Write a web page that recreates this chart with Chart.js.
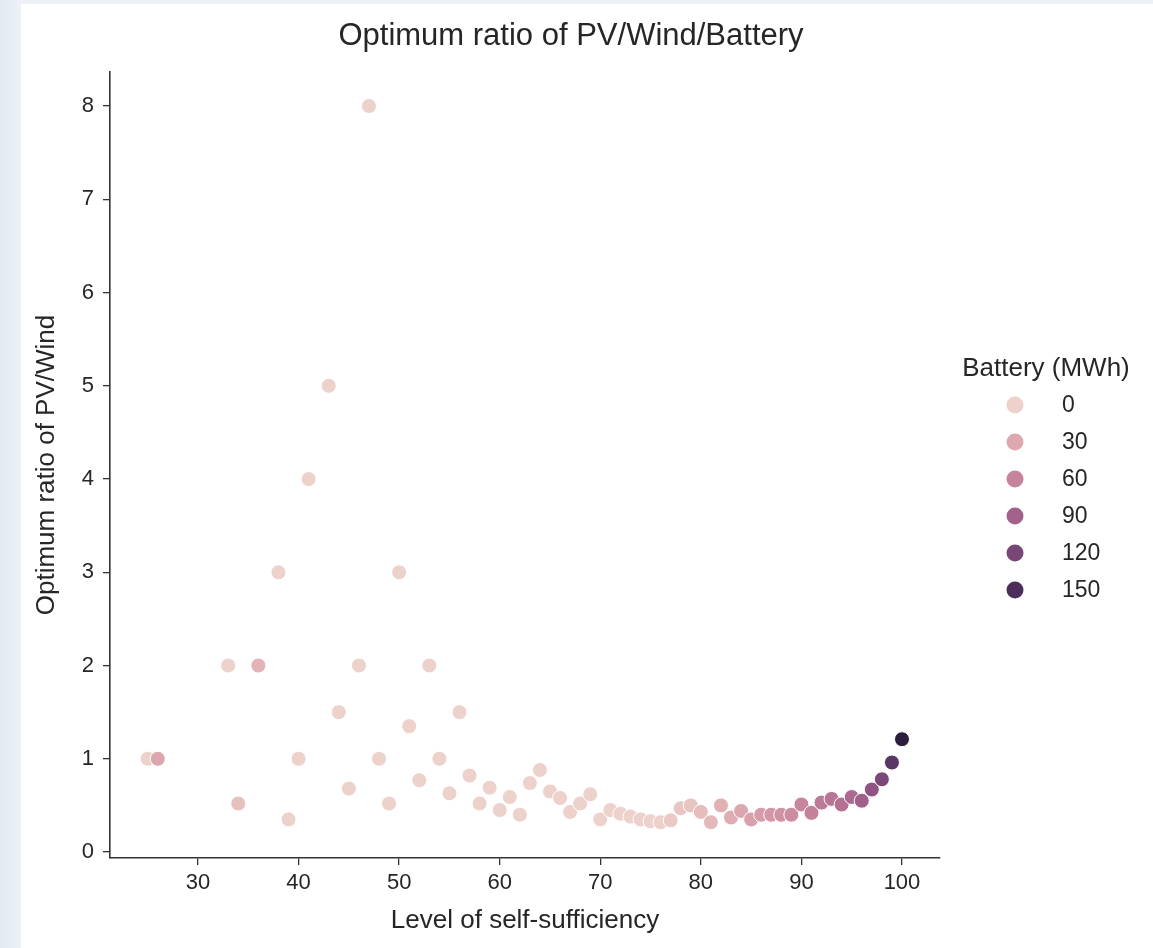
<!DOCTYPE html>
<html>
<head>
<meta charset="utf-8">
<script src="https://cdn.jsdelivr.net/npm/chart.js@4.4.1/dist/chart.umd.min.js"></script>
<style>
  html, body { margin: 0; padding: 0; }
  body { width: 1153px; height: 948px; overflow: hidden; position: relative;
         background: linear-gradient(90deg, #e3e9f2 0px, #edf1f7 21px); }
  #panel { position: absolute; left: 21px; top: 4px; right: 0; bottom: 0; background: #fff; }
  #chart { position: absolute; left: 0; top: 0; }
</style>
</head>
<body>
<div id="panel"></div>
<canvas id="chart" width="1153" height="948"></canvas>
<script>
// level of self-sufficiency (%)
const selfSufficiency = [25, 26, 33, 34, 36, 38, 39, 40, 41, 43, 44, 45, 46, 47, 48, 49, 50,
  51, 52, 53, 54, 55, 56, 57, 58, 59, 60, 61, 62, 63, 64, 65, 66, 67, 68, 69, 70,
  71, 72, 73, 74, 75, 76, 77, 78, 79, 80, 81, 82, 83, 84, 85, 86, 87, 88, 89, 90,
  91, 92, 93, 94, 95, 96, 97, 98, 99, 100];

// optimum PV/Wind ratio
const pvWindRatio = [1.0, 1.0, 2.0, 0.52, 2.0, 3.0, 0.35, 1.0, 4.0, 5.0, 1.5, 0.68, 2.0, 8.0, 1.0, 0.52, 3.0,
  1.35, 0.77, 2.0, 1.0, 0.63, 1.5, 0.82, 0.52, 0.69, 0.45, 0.59, 0.4, 0.74, 0.88, 0.65, 0.58, 0.43, 0.52, 0.62, 0.35,
  0.45, 0.41, 0.38, 0.35, 0.33, 0.32, 0.34, 0.47, 0.5, 0.43, 0.32, 0.5, 0.37, 0.44, 0.35, 0.4, 0.4, 0.4, 0.4, 0.51,
  0.42, 0.53, 0.57, 0.51, 0.59, 0.55, 0.67, 0.78, 0.96, 1.21];

// battery size (MWh), used as hue
const batteryMWh = [0, 32, 0, 12, 22, 0, 0, 0, 0, 0, 0, 0, 0, 0, 0, 0, 0,
  0, 0, 0, 0, 0, 0, 0, 0, 0, 0, 0, 0, 0, 0, 0, 0, 0, 0, 0, 0,
  0, 0, 0, 0, 0, 0, 5, 8, 10, 15, 18, 25, 28, 32, 36, 40, 44, 48, 52, 58,
  62, 68, 72, 76, 82, 92, 104, 118, 140, 170];

const legendBattery = [0, 30, 60, 90, 120, 150];
const xTicks = [30, 40, 50, 60, 70, 80, 90, 100];
const yTicks = [0, 1, 2, 3, 4, 5, 6, 7, 8];

const FONT = '"Liberation Sans", Arial, sans-serif';
const TEXT = '#262626';
const AXIS = '#333333';

// seaborn "ch:" cubehelix colormap
function cubehelix(t) {
  const x = 0.85 - 0.7 * t;
  const a = 0.8 * x * (1 - x) / 2;
  const phi = 2 * Math.PI * (0.4 * x);
  const c = Math.cos(phi), s = Math.sin(phi);
  const r = x + a * (-0.14861 * c + 1.78277 * s);
  const g = x + a * (-0.29227 * c - 0.90649 * s);
  const b = x + a * (1.97294 * c);
  const to = v => Math.round(Math.max(0, Math.min(1, v)) * 255);
  return 'rgb(' + to(r) + ',' + to(g) + ',' + to(b) + ')';
}
const bMin = Math.min(...batteryMWh);
const bMax = Math.max(...batteryMWh);
const hue = v => cubehelix((v - bMin) / (bMax - bMin));

const points = selfSufficiency.map((x, i) => ({ x: x, y: pvWindRatio[i] }));

// title and hue legend drawn after the chart
const decorations = {
  id: 'decorations',
  afterDraw(chart) {
    const ctx = chart.ctx;
    ctx.save();
    ctx.fillStyle = TEXT;
    ctx.textBaseline = 'middle';
    ctx.textAlign = 'center';
    ctx.font = '31px ' + FONT;
    ctx.fillText('Optimum ratio of PV/Wind/Battery', 571, 36);

    ctx.font = '26px ' + FONT;
    ctx.fillText('Battery (MWh)', 1046, 369);
    ctx.textAlign = 'left';
    ctx.font = '23px ' + FONT;
    legendBattery.forEach((v, i) => {
      const y = 405 + 37 * i;
      ctx.beginPath();
      ctx.arc(1015, y, 8.5, 0, Math.PI * 2);
      ctx.fillStyle = hue(v);
      ctx.fill();
      ctx.fillStyle = TEXT;
      ctx.fillText(String(v), 1062, y + 1);
    });
    ctx.restore();
  }
};

new Chart(document.getElementById('chart'), {
  type: 'scatter',
  data: {
    datasets: [{
      data: points,
      backgroundColor: batteryMWh.map(hue),
      borderColor: '#ffffff',
      borderWidth: 1,
      pointRadius: 7.5,
      pointHoverRadius: 7.5
    }]
  },
  options: {
    responsive: false,
    animation: false,
    events: [],
    layout: { padding: { top: 72, right: 213, left: 0, bottom: 0 } },
    plugins: { legend: { display: false }, tooltip: { enabled: false }, title: { display: false } },
    scales: {
      x: {
        type: 'linear',
        min: 21.25,
        max: 103.78,
        afterBuildTicks: s => { s.ticks = xTicks.map(v => ({ value: v })); },
        afterFit: s => { s.height = 90; },
        grid: { display: true, drawOnChartArea: false, drawTicks: true, tickLength: 7, color: AXIS, lineWidth: 1.3 },
        border: { display: true, color: AXIS, width: 1.6 },
        ticks: { color: TEXT, font: { family: FONT, size: 22 }, padding: 5, maxRotation: 0 },
        title: { display: true, text: 'Level of self-sufficiency', color: TEXT,
                 font: { family: FONT, size: 26 }, padding: { top: 0, bottom: 12 } }
      },
      y: {
        type: 'linear',
        min: -0.064,
        max: 8.365,
        afterBuildTicks: s => { s.ticks = yTicks.map(v => ({ value: v })); },
        afterFit: s => { s.width = 110; },
        grid: { display: true, drawOnChartArea: false, drawTicks: true, tickLength: 7, color: AXIS, lineWidth: 1.3 },
        border: { display: true, color: AXIS, width: 1.6 },
        ticks: { color: TEXT, font: { family: FONT, size: 22 }, padding: 9 },
        title: { display: true, text: 'Optimum ratio of PV/Wind', color: TEXT,
                 font: { family: FONT, size: 26 }, padding: { top: 31, bottom: 0 } }
      }
    }
  },
  plugins: [decorations]
});
</script>
</body>
</html>
